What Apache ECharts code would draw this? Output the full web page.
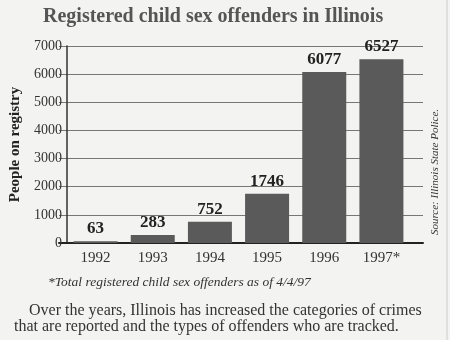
<!DOCTYPE html>
<html>
<head>
<meta charset="utf-8">
<script src="https://cdn.jsdelivr.net/npm/echarts@6/dist/echarts.min.js"></script>
<style>
html,body{margin:0;padding:0;background:#f3f3f2;}
#c{width:450px;height:340px;}
</style>
</head>
<body>
<div id="c"></div>
<script>
const years = ['1992', '1993', '1994', '1995', '1996', '1997*'];
const offenders = [63, 283, 752, 1746, 6077, 6527];
const yTicks = [0, 1000, 2000, 3000, 4000, 5000, 6000, 7000];

const serif = '"Liberation Serif", "DejaVu Serif", serif';
const yMin = yTicks[0], yMax = yTicks[yTicks.length - 1], yStep = yTicks[1] - yTicks[0];
const chart = echarts.init(document.getElementById('c'), null, {renderer: 'canvas'});
chart.setOption({
  backgroundColor: '#f3f3f2',
  animation: false,
  title: {
    text: 'Registered child sex offenders in Illinois',
    left: 38, top: 2,
    textStyle: {fontFamily: serif, fontWeight: 'bold', fontSize: 20, color: '#555'}
  },
  grid: [
    {left: 59, right: 40, top: 46, bottom: 97},
    {left: 59, right: 27, top: 46, bottom: 97}
  ],
  xAxis: [{
    type: 'category',
    gridIndex: 0,
    data: years,
    axisLine: {show: false},
    axisTick: {show: false},
    axisLabel: {fontFamily: serif, fontSize: 15, color: '#333', margin: 8}
  }, {
    type: 'value',
    gridIndex: 1,
    min: 0, max: 1,
    axisLine: {show: true, onZero: false, lineStyle: {color: '#222', width: 2}},
    axisTick: {show: false},
    axisLabel: {show: false},
    splitLine: {show: false}
  }],
  yAxis: [{
    type: 'value',
    gridIndex: 0,
    min: yMin, max: yMax, interval: yStep,
    name: 'People on registry',
    nameLocation: 'middle',
    nameGap: 44,
    nameTextStyle: {fontFamily: serif, fontWeight: 'bold', fontSize: 15, color: '#222'},
    axisLine: {show: true, lineStyle: {color: '#333', width: 1.5}},
    axisTick: {show: false},
    axisLabel: {fontFamily: serif, fontSize: 14, color: '#333', margin: 5, formatter: v => String(v)},
    splitLine: {show: false}
  }, {
    type: 'value',
    gridIndex: 1,
    min: yMin, max: yMax, interval: yStep,
    axisLine: {show: false},
    axisTick: {show: false},
    axisLabel: {show: false},
    splitLine: {lineStyle: {color: '#777', width: 1}}
  }],
  series: [{
    type: 'bar',
    xAxisIndex: 0, yAxisIndex: 0,
    data: offenders,
    barWidth: 44,
    z: 3,
    itemStyle: {color: '#5a5a5a'},
    label: {
      show: true, position: 'top', distance: 4,
      fontFamily: serif, fontWeight: 'bold', fontSize: 17, color: '#222'
    }
  }],
  graphic: [
    {type: 'text', left: 48, top: 275, style: {text: '*Total registered child sex offenders as of 4/4/97', font: 'italic 13.5px "Liberation Serif"', fill: '#333'}},
    {type: 'text', left: 29, top: 303, style: {text: 'Over the years, Illinois has increased the categories of crimes', font: '16px "Liberation Serif"', fill: '#333'}},
    {type: 'text', left: 14, top: 319, style: {text: 'that are reported and the types of offenders who are tracked.', font: '16px "Liberation Serif"', fill: '#333'}},
    {type: 'text', x: 435, y: 172, rotation: Math.PI / 2, style: {text: 'Source: Illinois State Police.', font: 'italic 11px "Liberation Serif"', fill: '#333', align: 'center', verticalAlign: 'middle'}},
    {type: 'line', shape: {x1: 447, y1: 0, x2: 447, y2: 340}, style: {stroke: '#ccc', lineWidth: 1}}
  ]
});
</script>
</body>
</html>
